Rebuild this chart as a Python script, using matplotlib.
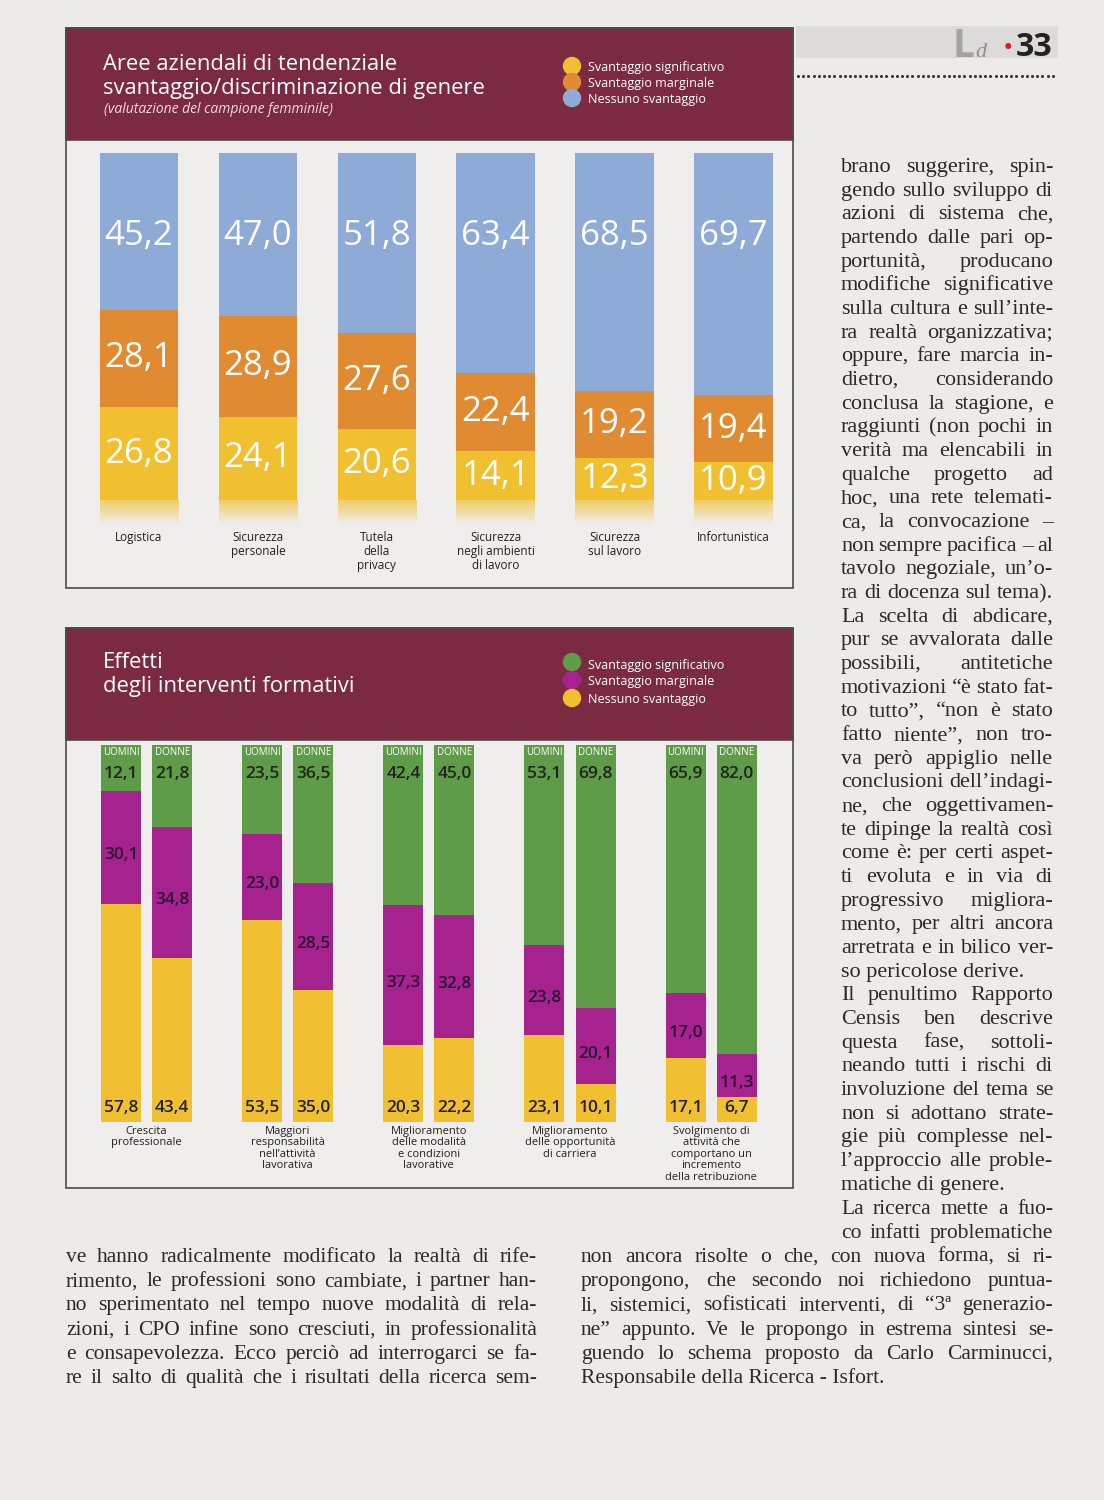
import numpy as np
import matplotlib.pyplot as plt
from matplotlib.patches import Rectangle, Circle

# ---- data chart 1 ----
cat1 = ['Logistica', 'Sicurezza\npersonale', 'Tutela\ndella\nprivacy',
        'Sicurezza\nnegli ambienti\ndi lavoro', 'Sicurezza\nsul lavoro', 'Infortunistica']
sig1 = [26.8, 24.1, 20.6, 14.1, 12.3, 10.9]
marg1 = [28.1, 28.9, 27.6, 22.4, 19.2, 19.4]
none1 = [45.2, 47.0, 51.8, 63.4, 68.5, 69.7]
legend1 = ['Svantaggio significativo', 'Svantaggio marginale', 'Nessuno svantaggio']

# ---- data chart 2 ----
cat2 = ['Crescita\nprofessionale', 'Maggiori\nresponsabilità\nnell\u2019attività\nlavorativa',
        'Miglioramento\ndelle modalità\ne condizioni\nlavorative',
        'Miglioramento\ndelle opportunità\ndi carriera',
        'Svolgimento di\nattività che\ncomportano un\nincremento\ndella retribuzione']
groups = ['UOMINI', 'DONNE']
green_u = [12.1, 23.5, 42.4, 53.1, 65.9]
green_d = [21.8, 36.5, 45.0, 69.8, 82.0]
mag_u = [30.1, 23.0, 37.3, 23.8, 17.0]
mag_d = [34.8, 28.5, 32.8, 20.1, 11.3]
yel_u = [57.8, 53.5, 20.3, 23.1, 17.1]
yel_d = [43.4, 35.0, 22.2, 10.1, 6.7]

# ---- body text ----
right_col = [
    'brano suggerire, spin-', 'gendo sullo sviluppo di', 'azioni di sistema che,',
    'partendo dalle pari op-', 'portunità, producano', 'modifiche significative',
    'sulla cultura e sull\u2019inte-', 'ra realtà organizzativa;', 'oppure, fare marcia in-',
    'dietro, considerando', 'conclusa la stagione, e', 'raggiunti (non pochi in',
    'verità ma elencabili in', 'qualche progetto ad', 'hoc, una rete telemati-',
    'ca, la convocazione \u2013', 'non sempre pacifica \u2013 al', 'tavolo negoziale, un\u2019o-',
    'ra di docenza sul tema).', 'La scelta di abdicare,', 'pur se avvalorata dalle',
    'possibili, antitetiche', 'motivazioni \u201cè stato fat-', 'to tutto\u201d, \u201cnon è stato',
    'fatto niente\u201d, non tro-', 'va però appiglio nelle', 'conclusioni dell\u2019indagi-',
    'ne, che oggettivamen-', 'te dipinge la realtà così', 'come è: per certi aspet-',
    'ti evoluta e in via di', 'progressivo migliora-', 'mento, per altri ancora',
    'arretrata e in bilico ver-', 'so pericolose derive.', 'Il penultimo Rapporto',
    'Censis ben descrive', 'questa fase, sottoli-', 'neando tutti i rischi di',
    'involuzione del tema se', 'non si adottano strate-', 'gie più complesse nel-',
    'l\u2019approccio alle proble-', 'matiche di genere.']
right_end = ['La ricerca mette a fuo-', 'co infatti problematiche']
bottom_left = [
    've hanno radicalmente modificato la realtà di rife-',
    'rimento, le professioni sono cambiate, i partner han-',
    'no sperimentato nel tempo nuove modalità di rela-',
    'zioni, i CPO infine sono cresciuti, in professionalità',
    'e consapevolezza. Ecco perciò ad interrogarci se fa-',
    're il salto di qualità che i risultati della ricerca sem-']
bottom_right = [
    'non ancora risolte o che, con nuova forma, si ri-',
    'propongono, che secondo noi richiedono puntua-',
    'li, sistemici, sofisticati interventi, di \u201c3\u00aa generazio-',
    'ne\u201d appunto. Ve le propongo in estrema sintesi se-',
    'guendo lo schema proposto da Carlo Carminucci,',
    'Responsabile della Ricerca - Isfort.']
no_justify = ['so pericolose derive.', 'matiche di genere.', 'Responsabile della Ricerca - Isfort.']

# colours
paper = '#ecebe8'
maroon = '#7b2a41'
c_yel = '#f1c030'
c_ora = '#e08a32'
c_blu = '#8eaad6'
c_grn = '#5e9c48'
c_mag = '#a6238f'
ink = '#2b2a2a'
SANS = ['Open Sans', 'DejaVu Sans']
SERIF = ['Liberation Serif', 'DejaVu Serif']

W, H = 1104, 1500
fig = plt.figure(figsize=(W / 100, H / 100), dpi=100, facecolor=paper)
bg = fig.add_axes([0, 0, 1, 1])
bg.set_xlim(0, W)
bg.set_ylim(H, 0)
bg.axis('off')
renderer = fig.canvas.get_renderer()


def put_line(txt, x0, x1, y, size, justify=True):
    if not justify:
        bg.text(x0, y, txt, fontsize=size, family=SERIF, color=ink, va='baseline', ha='left')
        return
    words = txt.split(' ')
    objs = [bg.text(x0, y, w, fontsize=size, family=SERIF, color=ink, va='baseline', ha='left')
            for w in words]
    widths = [o.get_window_extent(renderer).width for o in objs]
    gap = (x1 - x0 - sum(widths)) / max(len(words) - 1, 1)
    gap = max(gap, 2.5)
    x = x0
    for o, w in zip(objs, widths):
        o.set_x(x)
        x += w + gap


def header(y0, y1):
    bg.add_patch(Rectangle((66, y0), 727, y1 - y0, facecolor='#efeeec', edgecolor='#4a4a4a', lw=1.2))
    bg.add_patch(Rectangle((66, y0), 727, 112, facecolor=maroon, edgecolor='#4a4a4a', lw=1.2))


# ---- page header ----
bg.add_patch(Rectangle((796, 26), 262, 32, facecolor='#dcdbd9', edgecolor='none'))
bg.text(952, 57, 'L', fontsize=28, family=SANS, fontweight='bold', color='#a3a3a3', va='baseline')
bg.text(975, 57, 'd', fontsize=16, family=SERIF, style='italic', color='#8f8f8f', va='baseline')
bg.text(1003, 56, '\u2022', fontsize=20, family=SANS, color='#d3202a', va='baseline')
bg.text(1016, 56, '33', fontsize=23, family=SANS, fontweight='bold', color='#222222', va='baseline')
dots = np.arange(798, 1056, 5.2)
bg.plot(dots, np.full(len(dots), 76), 'o', ms=2.2, color='#333333', mec='none')

# ---- chart 1 frame ----
header(28, 588)
bg.text(103, 70, 'Aree aziendali di tendenziale', fontsize=15.8, family=SANS, color='white', va='baseline')
bg.text(103, 94, 'svantaggio/discriminazione di genere', fontsize=15.8, family=SANS, color='white',
        va='baseline')
bg.text(104, 113, '(valutazione del campione femminile)', fontsize=10, family=SANS, style='italic',
        color='#f0dde2', va='baseline')
for i, (lab, col) in enumerate(zip(legend1, [c_yel, c_ora, c_blu])):
    bg.add_patch(Circle((572, 66 + i * 16), 8.5, color=col, zorder=3))
    bg.text(588, 67 + i * 16.5, lab, fontsize=9, family=SANS, color='white', va='center')

ax1 = fig.add_axes([66 / W, 1 - 528 / H, 727 / W, 375 / H])
ax1.axis('off')
x1 = np.arange(len(cat1))
bw = 0.66
s1 = np.array(sig1)
m1 = np.array(marg1)
n1 = np.array(none1)
ax1.bar(x1, s1, bw, color=c_yel)
ax1.bar(x1, m1, bw, bottom=s1, color=c_ora)
ax1.bar(x1, n1, bw, bottom=s1 + m1, color=c_blu)
for i in range(len(cat1)):
    grad = np.zeros((20, 2, 4))
    grad[..., :3] = plt.matplotlib.colors.to_rgb(c_yel)
    grad[..., 3] = np.linspace(0.7, 0.0, 20)[:, None]
    ax1.imshow(grad, extent=(x1[i] - bw / 2, x1[i] + bw / 2, -7, 0), aspect='auto', origin='upper')
    ax1.text(x1[i], 76, f'{none1[i]:.1f}'.replace('.', ','), ha='center', va='center',
             fontsize=25, family=SANS, fontweight='medium', color='white')
    ax1.text(x1[i], s1[i] + m1[i] / 2, f'{marg1[i]:.1f}'.replace('.', ','), ha='center', va='center',
             fontsize=25, family=SANS, fontweight='medium', color='white')
    ax1.text(x1[i], s1[i] / 2, f'{sig1[i]:.1f}'.replace('.', ','), ha='center', va='center',
             fontsize=25, family=SANS, fontweight='medium', color='white')
ax1.set_xlim(-0.614, 5.5)
ax1.set_ylim(-8, 100)
for i, lab in enumerate(cat1):
    bg.text(66 + (x1[i] + 0.614) * 727 / 6.114, 531, lab, ha='center', va='top', fontsize=8.5,
            family=SANS, color='#222222', linespacing=1.1)

# ---- chart 2 frame ----
header(628, 1188)
bg.text(103, 668, 'Effetti', fontsize=15.8, family=SANS, color='white', va='baseline')
bg.text(103, 692, 'degli interventi formativi', fontsize=15.8, family=SANS, color='white', va='baseline')
for i, (lab, col) in enumerate(zip(legend1, [c_grn, c_mag, c_yel])):
    bg.add_patch(Circle((572, 662 + i * 18), 8.5, color=col, zorder=3))
    bg.text(588, 665 + i * 17, lab, fontsize=9, family=SANS, color='white', va='center')

ax2 = fig.add_axes([66 / W, 1 - 1122 / H, 727 / W, 377 / H])
ax2.axis('off')
x2 = np.arange(len(cat2))
off = 0.181
bw2 = 0.284
for xs, g, m, y, name in [(x2 - off, green_u, mag_u, yel_u, groups[0]),
                          (x2 + off, green_d, mag_d, yel_d, groups[1])]:
    g = np.array(g)
    m = np.array(m)
    y = np.array(y)
    ax2.bar(xs, y, bw2, color=c_yel)
    ax2.bar(xs, m, bw2, bottom=y, color=c_mag)
    ax2.bar(xs, g, bw2, bottom=y + m, color=c_grn)
    for i in range(len(xs)):
        ax2.text(xs[i], 98, name, ha='center', va='center', fontsize=7, family=SANS, color='white')
        ax2.text(xs[i], 92.2, f'{g[i]:.1f}'.replace('.', ','), ha='center', va='center', fontsize=12.5,
                 family=SANS, fontweight='semibold', color='#222222')
        ax2.text(xs[i], y[i] + m[i] / 2 - 2, f'{m[i]:.1f}'.replace('.', ','), ha='center', va='center',
                 fontsize=12.5, family=SANS, fontweight='semibold', color='#2a1830')
        ax2.text(xs[i], 3.8, f'{y[i]:.1f}'.replace('.', ','), ha='center', va='center', fontsize=12.5,
                 family=SANS, fontweight='semibold', color='#222222')
ax2.set_xlim(-0.571, 4.58)
ax2.set_ylim(0, 100)
for i, lab in enumerate(cat2):
    bg.text(66 + (x2[i] + 0.571) * 727 / 5.151, 1126, lab, ha='center', va='top', fontsize=8,
            family=SANS, color='#222222', linespacing=1.05)

# ---- body text ----
for i, line in enumerate(right_col):
    put_line(line, 841, 1053, 172 + i * 23.67, 16, line not in no_justify)
for i, line in enumerate(right_end):
    put_line(line, 841, 1053, 1214 + i * 24, 15.5)
for i, line in enumerate(bottom_left):
    put_line(line, 66, 537, 1262 + i * 24.2, 15.5)
for i, line in enumerate(bottom_right):
    put_line(line, 581, 1053, 1262 + i * 24.2, 15.5, line not in no_justify)

fig.savefig('out.png', dpi=100, facecolor=paper)
